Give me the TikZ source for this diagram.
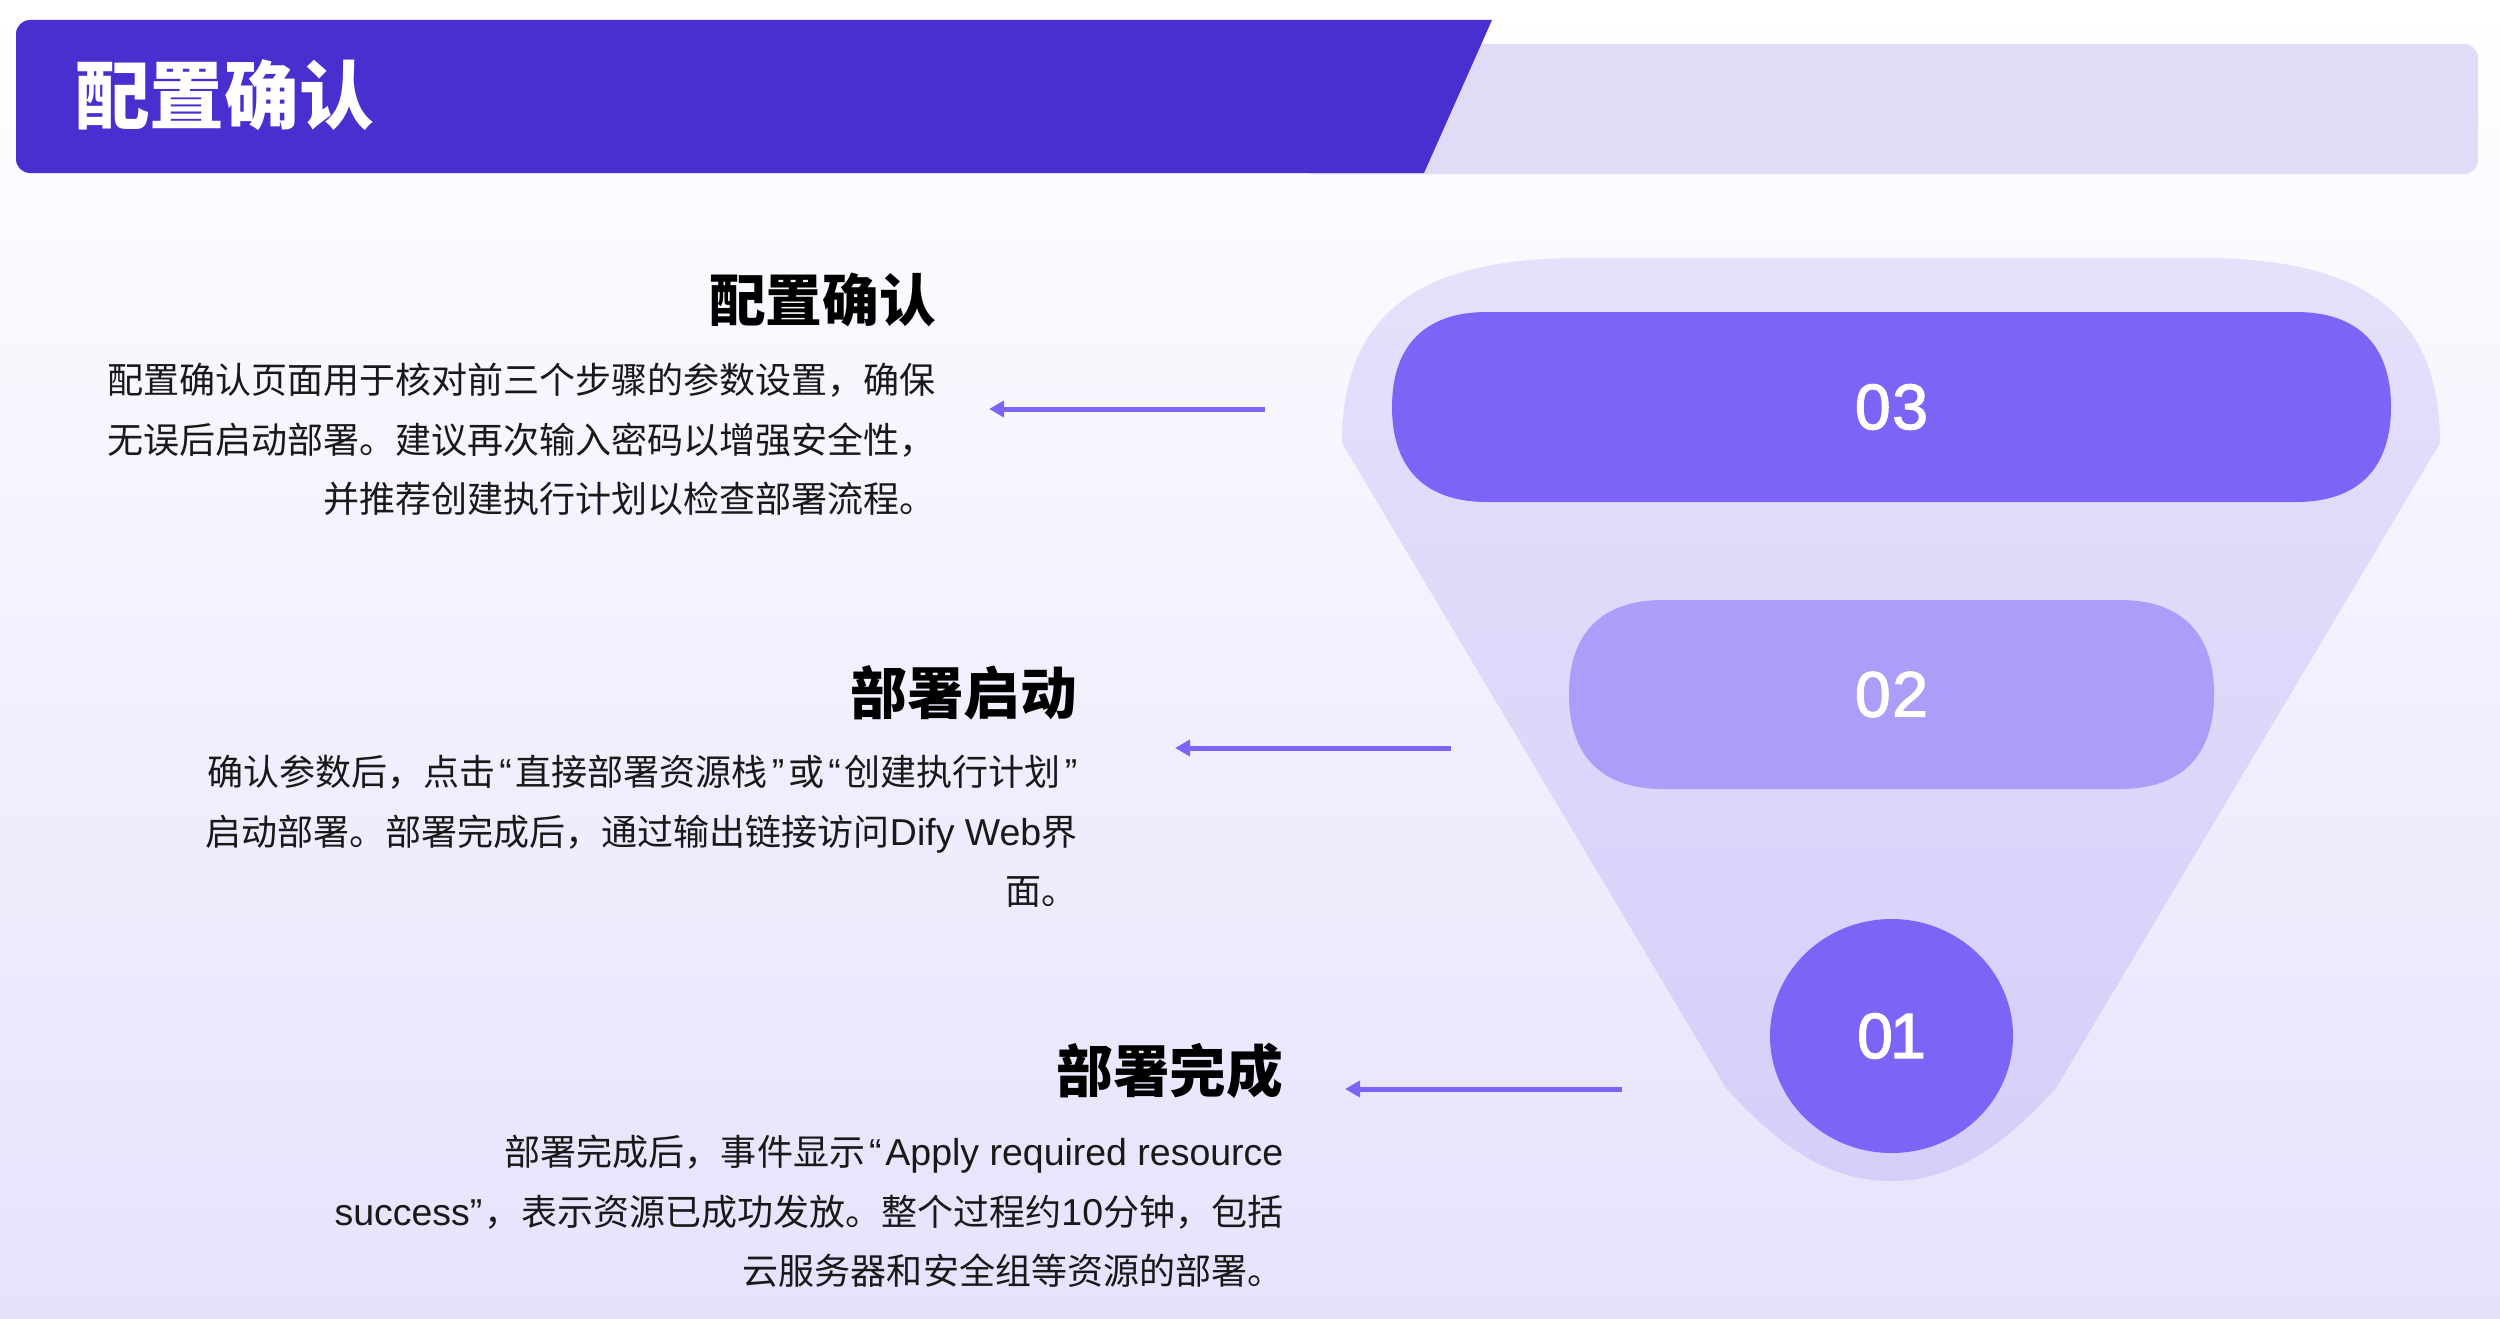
\documentclass[tikz,border=0pt]{standalone}
\usepackage{fontspec}
\usetikzlibrary{arrows.meta}
\setmainfont{Noto Sans CJK SC}
\newfontfamily\lat[Scale=1.04]{Liberation Sans}
\newfontfamily\numf[FakeBold=2]{Liberation Sans}
\newcommand{\lqm}{\hspace{4.5pt}{\lat “}\hspace{4.5pt}}
\newcommand{\rqm}{\hspace{4.5pt}{\lat ”}\hspace{4.5pt}}
\definecolor{dark}{HTML}{482FCF}
\definecolor{band}{HTML}{E0DCF7}
\definecolor{vio}{HTML}{7B65F7}
\definecolor{midv}{HTML}{AB9DF8}
\definecolor{bgbot}{HTML}{E6E2FC}
\definecolor{funtop}{HTML}{E5E0FB}
\definecolor{funbot}{HTML}{D5CEF9}
\newcommand{\px}{0.04cm}
% x0, y0, x1, y1, r, colour: a rounded bar whose corners are a little fuller than circular
\newcommand{\softbar}[6]{%
 \fill[#6] ({#1+#5},#2) -- ({#3-#5},#2)
  .. controls ({#3-0.35*#5},#2) and (#3,{#2+0.35*#5}) .. (#3,{#2+#5})
  -- (#3,{#4-#5})
  .. controls (#3,{#4-0.35*#5}) and ({#3-0.35*#5},#4) .. ({#3-#5},#4)
  -- ({#1+#5},#4)
  .. controls ({#1+0.35*#5},#4) and (#1,{#4-0.35*#5}) .. (#1,{#4-#5})
  -- (#1,{#2+#5})
  .. controls (#1,{#2+0.35*#5}) and ({#1+0.35*#5},#2) .. ({#1+#5},#2) -- cycle;}
\tikzset{
 x=0.04cm,y=-0.04cm,
 num/.style={text=white,font=\fontsize{73}{75}\selectfont\numf,inner sep=0pt},
 head/.style={anchor=east,inner sep=0pt,font=\fontsize{64.5}{70}\selectfont\bfseries},
 body/.style={anchor=north east,inner sep=0pt,align=right,text=black!90,font=\fontsize{41}{67.7}\selectfont},
 arr/.style={draw=vio,line width=5*\px,-{Stealth[length=15*\px,width=16*\px,inset=0pt]}},
}
\begin{document}
\begin{tikzpicture}
\useasboundingbox (0,0) rectangle (2500,1318);
\shade[top color=white,bottom color=bgbot] (0,0) rectangle (2500,1318);
% banner
\fill[band,rounded corners=0.55cm] (1300,44) rectangle (2478,174);
\fill[dark,rounded corners=0.56cm] (700,173) -- (16,173) -- (16,20) -- (700,20) [sharp corners] -- (1492,20) -- (1424,173) -- cycle;
\node[anchor=west,inner sep=0pt,text=white,font=\fontsize{85}{90}\selectfont\bfseries] (title) at (75,95) {配置确认};
% funnel
\shade[top color=funtop,bottom color=funbot]
 (1580,258) -- (2202,258) .. controls (2365,258) and (2440,315) .. (2440,443)
 -- (2056,1088) .. controls (2000,1150) and (1950,1181) .. (1891,1181)
 .. controls (1832,1181) and (1782,1150) .. (1726,1088)
 -- (1342,443) .. controls (1342,315) and (1417,258) .. (1580,258) -- cycle;
\softbar{1392}{312}{2391}{502}{95}{vio}
\node[num] (p3) at (1891.5,407) {0\kern2pt 3};
\softbar{1569}{600}{2214}{789}{94}{midv}
\node[num] (p2) at (1891.5,694.5) {0\kern2pt 2};
\fill[vio] (1891.5,1036) ellipse (121.5 and 117);
\node[num] (p1) at (1891.5,1036) {0\kern-3pt 1};
% headings and texts
\node[head] (h3) at (936,300) {配置确认};
\node[body] (b3) at (936,363) {配置确认页面用于核对前三个步骤的参数设置，确保\\无误后启动部署。建议再次输入密码以增强安全性，\\并推荐创建执行计划以检查部署流程。};
\node[head] (h2) at (1077.5,693) {部署启动};
\node[body] (b2) at (1077.5,755) {确认参数后，点击\lqm 直接部署资源栈\rqm 或\lqm 创建执行计划\hspace{4.5pt}{\lat ”}\\启动部署。部署完成后，通过输出链接访问{\lat Dify Web}界\\面。};
\node[head] (h1) at (1283.5,1071) {部署完成};
\node[body] (b1) at (1283.5,1135) {部署完成后，事件显示\lqm{\lat Apply required resource}\\{\lat success}{\lat ”}\hspace{3pt}，表示资源已成功发放。整个过程约{\lat 10}分钟，包括\\云服务器和安全组等资源的部署。};
% arrows
\coordinate (a3s) at (1265,409); \coordinate (a3e) at (989,409);
\coordinate (a2s) at (1451,748); \coordinate (a2e) at (1175,748);
\coordinate (a1s) at (1622,1089); \coordinate (a1e) at (1345,1089);
\draw[arr] (a3s) -- (a3e);
\draw[arr] (a2s) -- (a2e);
\draw[arr] (a1s) -- (a1e);
\end{tikzpicture}
\end{document}
